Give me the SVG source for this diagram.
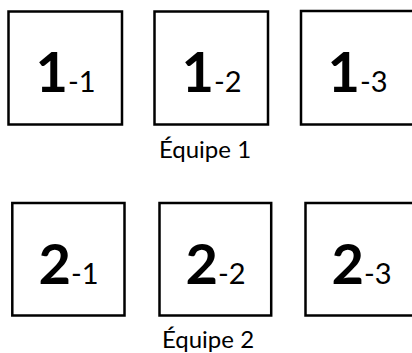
<svg xmlns="http://www.w3.org/2000/svg" width="412" height="353" viewBox="0 0 412 353">
<style>
.box{fill:#fff;stroke:#000;stroke-width:2.5}
.big{font-family:Lato,"Liberation Sans",sans-serif;font-weight:bold;font-size:56px;fill:#000}
.sub{font-family:Lato,"Liberation Sans",sans-serif;font-size:29px;fill:#000}
.lbl{font-family:Lato,"Liberation Sans",sans-serif;font-size:24px;fill:#000}
</style>
<rect width="412" height="353" fill="#fff"/>
<g id="n1-1"><rect class="box" x="8.5" y="11.5" width="113.5" height="113"/><text x="65.5" y="91.5" text-anchor="middle"><tspan class="big">1</tspan><tspan class="sub">-1</tspan></text></g>
<g id="n1-2"><rect class="box" x="154.5" y="11.5" width="113.5" height="113"/><text x="211.5" y="91.5" text-anchor="middle"><tspan class="big">1</tspan><tspan class="sub">-2</tspan></text></g>
<g id="n1-3"><rect class="box" x="301" y="11" width="113.5" height="113.5"/><text x="357.5" y="91.5" text-anchor="middle"><tspan class="big">1</tspan><tspan class="sub">-3</tspan></text></g>
<g id="team1"><text class="lbl" x="205" y="158" text-anchor="middle">Équipe 1</text></g>
<g id="n2-1"><rect class="box" x="12.3" y="203" width="112.2" height="112.5"/><text x="68.5" y="283.5" text-anchor="middle"><tspan class="big">2</tspan><tspan class="sub">-1</tspan></text></g>
<g id="n2-2"><rect class="box" x="159.5" y="203" width="111.7" height="112.5"/><text x="215.5" y="283.5" text-anchor="middle"><tspan class="big">2</tspan><tspan class="sub">-2</tspan></text></g>
<g id="n2-3"><rect class="box" x="305.5" y="203" width="112" height="112.5"/><text x="361.5" y="283.5" text-anchor="middle"><tspan class="big">2</tspan><tspan class="sub">-3</tspan></text></g>
<g id="team2"><text class="lbl" x="208" y="348" text-anchor="middle">Équipe 2</text></g>
</svg>
